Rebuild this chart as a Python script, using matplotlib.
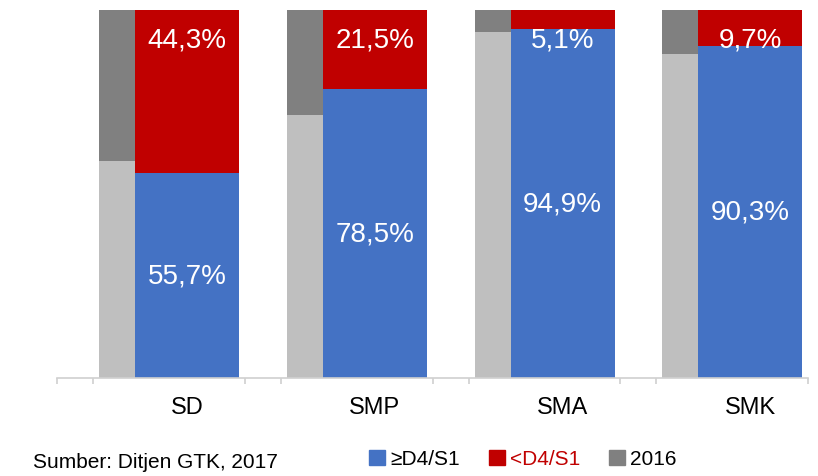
import matplotlib
matplotlib.use("Agg")
import matplotlib.pyplot as plt
from matplotlib.patches import Patch

plt.rcParams['font.family'] = ['Liberation Sans', 'DejaVu Sans']

# data
categories = ["SD", "SMP", "SMA", "SMK"]
high_2017 = [55.7, 78.5, 94.9, 90.3]   # >=D4/S1
low_2017 = [44.3, 21.5, 5.1, 9.7]      # <D4/S1
high_2016 = [59.0, 71.5, 94.0, 88.0]
low_2016 = [100 - v for v in high_2016]

blue = "#4472C4"
red = "#C00000"
dgrey = "#808080"
lgrey = "#BFBFBF"
axis_col = "#D0D0D0"

fig = plt.figure(figsize=(8.18, 4.77), dpi=100)
ax = fig.add_axes([57/818, 98/477, 751/818, 368/477])

x = list(range(len(categories)))
x_grey = [i + 0.224 for i in x]
x_blue = [i + 0.416 for i in x]

# 2016 background bars
ax.bar(x_grey, high_2016, width=0.192, align='edge', color=lgrey)
ax.bar(x_grey, low_2016, width=0.192, bottom=high_2016, align='edge', color=dgrey)

# 2017 bars
ax.bar(x_blue, high_2017, width=0.554, align='edge', color=blue)
ax.bar(x_blue, low_2017, width=0.554, bottom=high_2017, align='edge', color=red)

centers = [i + 0.416 + 0.554/2 for i in x]
for c, h, l in zip(centers, high_2017, low_2017):
    ax.text(c, h/2, f"{h:.1f}%".replace('.', ','), color='white',
            fontsize=20, ha='center', va='center')
    ax.annotate(f"{l:.1f}%".replace('.', ','), xy=(c, 100), xytext=(0, -21),
                textcoords='offset points', color='white', fontsize=20,
                ha='center', va='center')

ax.set_xlim(0, 4)
ax.set_ylim(0, 100)
ax.set_yticks([])
for s in ['top', 'right', 'left']:
    ax.spines[s].set_visible(False)
ax.spines['bottom'].set_color(axis_col)
ax.spines['bottom'].set_linewidth(1.2)

ax.set_xticks(centers)
ax.set_xticklabels(categories, fontsize=17)
ax.tick_params(axis='x', which='major', length=0, pad=13)
ax.set_xticks([0, 1, 2, 3, 4] + [i + 0.192 for i in x], minor=True)
ax.tick_params(axis='x', which='minor', length=4.5, color=axis_col, width=1.2)

handles = [Patch(color=blue), Patch(color=red), Patch(color=dgrey)]
leg = fig.legend(handles, ["≥D4/S1", "<D4/S1", "2016"], loc='center',
                 bbox_to_anchor=(523/818, 1 - 460/477), ncol=3, frameon=False,
                 fontsize=15, handlelength=0.75, handleheight=0.75,
                 handletextpad=0.25, columnspacing=1.4)
leg.get_texts()[1].set_color(red)

fig.text(33/818, 1 - 468/477, "Sumber: Ditjen GTK, 2017", fontsize=15,
         va='baseline', ha='left')

fig.savefig("out.png", dpi=100)
